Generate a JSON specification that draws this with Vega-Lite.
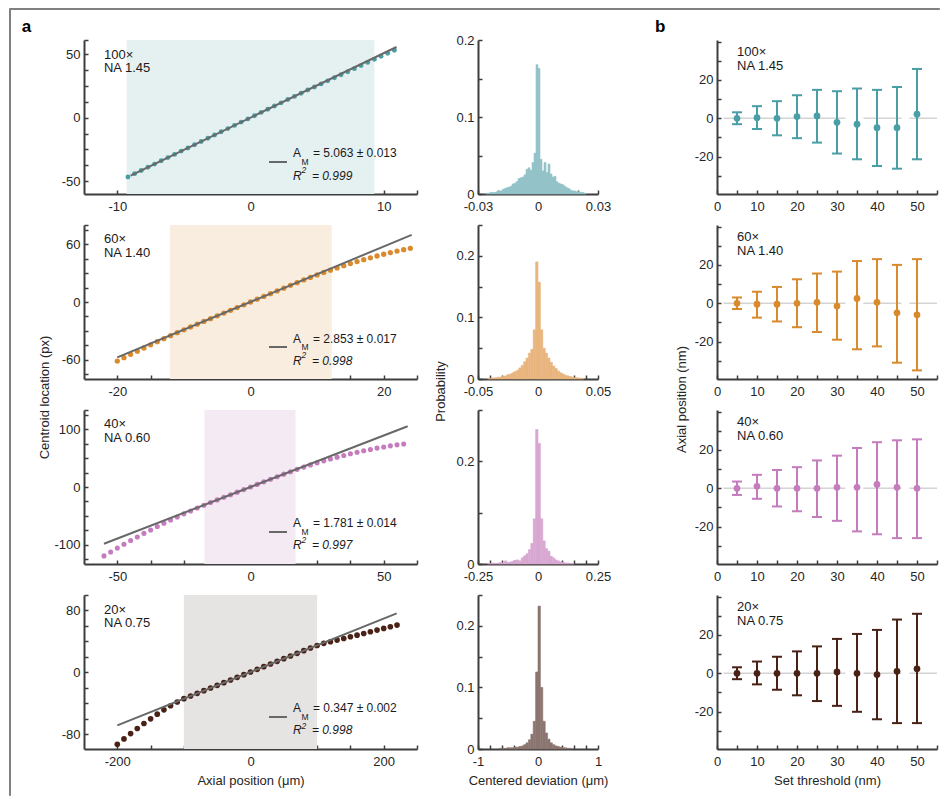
{
"$schema":"https://vega.github.io/schema/vega-lite/v6.json",
"padding":{"left":8,"top":7,"right":0,"bottom":0},
"background":"#ffffff",
"config":{
 "view":{"stroke":null},
 "font":"Liberation Sans",
 "axis":{"domainColor":"#3d3d3d","domainWidth":2,"tickColor":"#3d3d3d","tickWidth":1.5,"tickSize":-4,"labelFontSize":13,"labelColor":"#262626","labelFlush":false,"labelOverlap":false,"labelBound":false,"grid":false,"titleFontSize":13,"titleFontWeight":"normal","titleColor":"#262626"},
 "axisY":{"labelPadding":8,"labelOverlap":false},
 "axisX":{"labelPadding":10,"labelOverlap":false},
 "text":{"font":"Liberation Sans","color":"#1a1a1a"}
},
"datasets":{
 "ann":[
  {"r":1,"slo":-9.3,"shi":9.3,"fx1":-9.0,"fy1":-45.6,"fx2":10.96,"fy2":55.5,"mag":"100×\nNA 1.45","am":"= 5.063 ± 0.013","r2":"= 0.999"},
  {"r":2,"slo":-12.1,"shi":12.2,"fx1":-20,"fy1":-57.6,"fx2":24.2,"fy2":69.8,"mag":"60×\nNA 1.40","am":"= 2.853 ± 0.017","r2":"= 0.998"},
  {"r":3,"slo":-17.3,"shi":16.9,"fx1":-55,"fy1":-98,"fx2":59,"fy2":105,"mag":"40×\nNA 0.60","am":"= 1.781 ± 0.014","r2":"= 0.997"},
  {"r":4,"slo":-100,"shi":100,"fx1":-200,"fy1":-68.5,"fx2":219.5,"fy2":76.2,"mag":"20×\nNA 0.75","am":"= 0.347 ± 0.002","r2":"= 0.998"}
 ],
 "pts":[
  {"r":1,"x":-9.2,"y":-46.6},{"r":1,"x":-8.7,"y":-44.0},{"r":1,"x":-8.2,"y":-41.5},{"r":1,"x":-7.7,"y":-39.0},{"r":1,"x":-7.2,"y":-36.5},{"r":1,"x":-6.7,"y":-33.9},{"r":1,"x":-6.2,"y":-31.4},{"r":1,"x":-5.7,"y":-28.9},{"r":1,"x":-5.2,"y":-26.3},{"r":1,"x":-4.7,"y":-23.8},{"r":1,"x":-4.2,"y":-21.3},{"r":1,"x":-3.7,"y":-18.7},{"r":1,"x":-3.2,"y":-16.2},{"r":1,"x":-2.7,"y":-13.7},{"r":1,"x":-2.2,"y":-11.1},{"r":1,"x":-1.7,"y":-8.6},{"r":1,"x":-1.2,"y":-6.1},{"r":1,"x":-0.7,"y":-3.5},{"r":1,"x":-0.2,"y":-1.0},{"r":1,"x":0.3,"y":1.5},{"r":1,"x":0.8,"y":4.1},{"r":1,"x":1.3,"y":6.6},{"r":1,"x":1.8,"y":9.1},{"r":1,"x":2.3,"y":11.6},{"r":1,"x":2.8,"y":14.2},{"r":1,"x":3.3,"y":16.7},{"r":1,"x":3.8,"y":19.2},{"r":1,"x":4.3,"y":21.7},{"r":1,"x":4.8,"y":24.1},{"r":1,"x":5.3,"y":26.5},{"r":1,"x":5.8,"y":28.9},{"r":1,"x":6.3,"y":31.3},{"r":1,"x":6.8,"y":33.7},{"r":1,"x":7.3,"y":36.1},{"r":1,"x":7.8,"y":38.5},{"r":1,"x":8.3,"y":40.9},{"r":1,"x":8.8,"y":43.4},{"r":1,"x":9.3,"y":45.8},{"r":1,"x":9.8,"y":48.2},{"r":1,"x":10.3,"y":50.6},{"r":1,"x":10.8,"y":53.0},
  {"r":2,"x":-20,"y":-61.4},{"r":2,"x":-19,"y":-57.8},{"r":2,"x":-18,"y":-54.4},{"r":2,"x":-17,"y":-51.1},{"r":2,"x":-16,"y":-47.8},{"r":2,"x":-15,"y":-44.5},{"r":2,"x":-14,"y":-41.2},{"r":2,"x":-13,"y":-38.1},{"r":2,"x":-12,"y":-35.0},{"r":2,"x":-11,"y":-31.9},{"r":2,"x":-10,"y":-28.9},{"r":2,"x":-9,"y":-25.9},{"r":2,"x":-8,"y":-23.0},{"r":2,"x":-7,"y":-20.2},{"r":2,"x":-6,"y":-17.3},{"r":2,"x":-5,"y":-14.4},{"r":2,"x":-4,"y":-11.5},{"r":2,"x":-3,"y":-8.6},{"r":2,"x":-2,"y":-5.8},{"r":2,"x":-1,"y":-2.9},{"r":2,"x":0,"y":0},{"r":2,"x":1,"y":2.9},{"r":2,"x":2,"y":5.8},{"r":2,"x":3,"y":8.6},{"r":2,"x":4,"y":11.5},{"r":2,"x":5,"y":14.4},{"r":2,"x":6,"y":17.3},{"r":2,"x":7,"y":20.1},{"r":2,"x":8,"y":22.9},{"r":2,"x":9,"y":25.5},{"r":2,"x":10,"y":28.1},{"r":2,"x":11,"y":30.7},{"r":2,"x":12,"y":33.1},{"r":2,"x":13,"y":35.4},{"r":2,"x":14,"y":37.7},{"r":2,"x":15,"y":39.9},{"r":2,"x":16,"y":42.0},{"r":2,"x":17,"y":44.0},{"r":2,"x":18,"y":45.9},{"r":2,"x":19,"y":47.8},{"r":2,"x":20,"y":49.6},{"r":2,"x":21,"y":51.3},{"r":2,"x":22,"y":52.9},{"r":2,"x":23,"y":54.4},{"r":2,"x":24,"y":55.8},
  {"r":3,"x":-55,"y":-119.0},{"r":3,"x":-52.5,"y":-112.2},{"r":3,"x":-50,"y":-105.5},{"r":3,"x":-47.5,"y":-99.0},{"r":3,"x":-45,"y":-92.5},{"r":3,"x":-42.5,"y":-86.3},{"r":3,"x":-40,"y":-80.1},{"r":3,"x":-37.5,"y":-74.2},{"r":3,"x":-35,"y":-68.3},{"r":3,"x":-32.5,"y":-62.7},{"r":3,"x":-30,"y":-57.1},{"r":3,"x":-27.5,"y":-51.7},{"r":3,"x":-25,"y":-46.4},{"r":3,"x":-22.5,"y":-41.4},{"r":3,"x":-20,"y":-36.3},{"r":3,"x":-17.5,"y":-31.5},{"r":3,"x":-15,"y":-26.8},{"r":3,"x":-12.5,"y":-22.3},{"r":3,"x":-10,"y":-17.8},{"r":3,"x":-7.5,"y":-13.4},{"r":3,"x":-5,"y":-8.9},{"r":3,"x":-2.5,"y":-4.5},{"r":3,"x":0,"y":0},{"r":3,"x":2.5,"y":4.5},{"r":3,"x":5,"y":8.9},{"r":3,"x":7.5,"y":13.4},{"r":3,"x":10,"y":17.8},{"r":3,"x":12.5,"y":22.2},{"r":3,"x":15,"y":26.4},{"r":3,"x":17.5,"y":30.5},{"r":3,"x":20,"y":34.4},{"r":3,"x":22.5,"y":38.2},{"r":3,"x":25,"y":41.7},{"r":3,"x":27.5,"y":45.2},{"r":3,"x":30,"y":48.4},{"r":3,"x":32.5,"y":51.6},{"r":3,"x":35,"y":54.5},{"r":3,"x":37.5,"y":57.4},{"r":3,"x":40,"y":60.0},{"r":3,"x":42.5,"y":62.6},{"r":3,"x":45,"y":64.9},{"r":3,"x":47.5,"y":67.2},{"r":3,"x":50,"y":69.2},{"r":3,"x":52.5,"y":71.1},{"r":3,"x":55,"y":72.8},{"r":3,"x":57.5,"y":74.4},
  {"r":4,"x":-200,"y":-93.0},{"r":4,"x":-190,"y":-86.0},{"r":4,"x":-180,"y":-79.1},{"r":4,"x":-170,"y":-72.5},{"r":4,"x":-160,"y":-66.1},{"r":4,"x":-150,"y":-60.0},{"r":4,"x":-140,"y":-54.0},{"r":4,"x":-130,"y":-48.4},{"r":4,"x":-120,"y":-43.1},{"r":4,"x":-110,"y":-38.3},{"r":4,"x":-100,"y":-34.0},{"r":4,"x":-90,"y":-30.55},{"r":4,"x":-80,"y":-27.1},{"r":4,"x":-70,"y":-23.65},{"r":4,"x":-60,"y":-20.2},{"r":4,"x":-50,"y":-16.75},{"r":4,"x":-40,"y":-13.3},{"r":4,"x":-30,"y":-9.85},{"r":4,"x":-20,"y":-6.4},{"r":4,"x":-10,"y":-2.95},{"r":4,"x":0,"y":0.5},{"r":4,"x":10,"y":3.95},{"r":4,"x":20,"y":7.4},{"r":4,"x":30,"y":10.85},{"r":4,"x":40,"y":14.3},{"r":4,"x":50,"y":17.75},{"r":4,"x":60,"y":21.2},{"r":4,"x":70,"y":24.65},{"r":4,"x":80,"y":28.1},{"r":4,"x":90,"y":31.55},{"r":4,"x":100,"y":34.7},{"r":4,"x":110,"y":37.5},{"r":4,"x":120,"y":39.6},{"r":4,"x":130,"y":41.7},{"r":4,"x":140,"y":43.8},{"r":4,"x":150,"y":46.0},{"r":4,"x":160,"y":48.1},{"r":4,"x":170,"y":50.3},{"r":4,"x":180,"y":52.5},{"r":4,"x":190,"y":54.7},{"r":4,"x":200,"y":56.8},{"r":4,"x":210,"y":59.0},{"r":4,"x":220,"y":61.1}
 ],
 "hist":[
  {"r":1,"a":-0.026,"b":-0.025,"p":0.001},{"r":1,"a":-0.025,"b":-0.024,"p":0.001},{"r":1,"a":-0.024,"b":-0.023,"p":0.002},{"r":1,"a":-0.023,"b":-0.022,"p":0.002},{"r":1,"a":-0.022,"b":-0.021,"p":0.002},{"r":1,"a":-0.021,"b":-0.020,"p":0.003},{"r":1,"a":-0.020,"b":-0.019,"p":0.004},{"r":1,"a":-0.019,"b":-0.018,"p":0.004},{"r":1,"a":-0.018,"b":-0.017,"p":0.006},{"r":1,"a":-0.017,"b":-0.016,"p":0.007},{"r":1,"a":-0.016,"b":-0.015,"p":0.008},{"r":1,"a":-0.015,"b":-0.014,"p":0.009},{"r":1,"a":-0.014,"b":-0.013,"p":0.010},{"r":1,"a":-0.013,"b":-0.012,"p":0.013},{"r":1,"a":-0.012,"b":-0.011,"p":0.014},{"r":1,"a":-0.011,"b":-0.010,"p":0.016},{"r":1,"a":-0.010,"b":-0.009,"p":0.020},{"r":1,"a":-0.009,"b":-0.008,"p":0.021},{"r":1,"a":-0.008,"b":-0.007,"p":0.022},{"r":1,"a":-0.007,"b":-0.006,"p":0.025},{"r":1,"a":-0.006,"b":-0.005,"p":0.032},{"r":1,"a":-0.005,"b":-0.004,"p":0.034},{"r":1,"a":-0.004,"b":-0.003,"p":0.031},{"r":1,"a":-0.003,"b":-0.002,"p":0.041},{"r":1,"a":-0.002,"b":-0.001,"p":0.053},{"r":1,"a":-0.001,"b":0,"p":0.168},{"r":1,"a":0,"b":0.001,"p":0.163},{"r":1,"a":0.001,"b":0.002,"p":0.045},{"r":1,"a":0.002,"b":0.003,"p":0.030},{"r":1,"a":0.003,"b":0.004,"p":0.041},{"r":1,"a":0.004,"b":0.005,"p":0.028},{"r":1,"a":0.005,"b":0.006,"p":0.039},{"r":1,"a":0.006,"b":0.007,"p":0.026},{"r":1,"a":0.007,"b":0.008,"p":0.022},{"r":1,"a":0.008,"b":0.009,"p":0.023},{"r":1,"a":0.009,"b":0.010,"p":0.016},{"r":1,"a":0.010,"b":0.011,"p":0.014},{"r":1,"a":0.011,"b":0.012,"p":0.013},{"r":1,"a":0.012,"b":0.013,"p":0.012},{"r":1,"a":0.013,"b":0.014,"p":0.010},{"r":1,"a":0.014,"b":0.015,"p":0.008},{"r":1,"a":0.015,"b":0.016,"p":0.007},{"r":1,"a":0.016,"b":0.017,"p":0.005},{"r":1,"a":0.017,"b":0.018,"p":0.004},{"r":1,"a":0.018,"b":0.019,"p":0.004},{"r":1,"a":0.019,"b":0.020,"p":0.003},{"r":1,"a":0.020,"b":0.021,"p":0.003},{"r":1,"a":0.021,"b":0.022,"p":0.002},{"r":1,"a":0.022,"b":0.023,"p":0.002},{"r":1,"a":0.023,"b":0.024,"p":0.001},
  {"r":2,"a":-0.042,"b":-0.040,"p":0.001},{"r":2,"a":-0.040,"b":-0.038,"p":0.001},{"r":2,"a":-0.038,"b":-0.036,"p":0.002},{"r":2,"a":-0.036,"b":-0.034,"p":0.002},{"r":2,"a":-0.034,"b":-0.032,"p":0.003},{"r":2,"a":-0.032,"b":-0.030,"p":0.003},{"r":2,"a":-0.030,"b":-0.028,"p":0.004},{"r":2,"a":-0.028,"b":-0.026,"p":0.005},{"r":2,"a":-0.026,"b":-0.024,"p":0.007},{"r":2,"a":-0.024,"b":-0.022,"p":0.008},{"r":2,"a":-0.022,"b":-0.020,"p":0.010},{"r":2,"a":-0.020,"b":-0.018,"p":0.012},{"r":2,"a":-0.018,"b":-0.016,"p":0.014},{"r":2,"a":-0.016,"b":-0.014,"p":0.018},{"r":2,"a":-0.014,"b":-0.012,"p":0.022},{"r":2,"a":-0.012,"b":-0.010,"p":0.028},{"r":2,"a":-0.010,"b":-0.008,"p":0.034},{"r":2,"a":-0.008,"b":-0.006,"p":0.042},{"r":2,"a":-0.006,"b":-0.004,"p":0.048},{"r":2,"a":-0.004,"b":-0.002,"p":0.080},{"r":2,"a":-0.002,"b":0,"p":0.190},{"r":2,"a":0,"b":0.002,"p":0.157},{"r":2,"a":0.002,"b":0.004,"p":0.080},{"r":2,"a":0.004,"b":0.006,"p":0.050},{"r":2,"a":0.006,"b":0.008,"p":0.042},{"r":2,"a":0.008,"b":0.010,"p":0.034},{"r":2,"a":0.010,"b":0.012,"p":0.027},{"r":2,"a":0.012,"b":0.014,"p":0.021},{"r":2,"a":0.014,"b":0.016,"p":0.017},{"r":2,"a":0.016,"b":0.018,"p":0.013},{"r":2,"a":0.018,"b":0.020,"p":0.010},{"r":2,"a":0.020,"b":0.022,"p":0.008},{"r":2,"a":0.022,"b":0.024,"p":0.006},{"r":2,"a":0.024,"b":0.026,"p":0.005},{"r":2,"a":0.026,"b":0.028,"p":0.004},{"r":2,"a":0.028,"b":0.030,"p":0.003},{"r":2,"a":0.030,"b":0.032,"p":0.002},{"r":2,"a":0.032,"b":0.034,"p":0.002},{"r":2,"a":0.034,"b":0.036,"p":0.001},{"r":2,"a":0.036,"b":0.038,"p":0.001},
  {"r":3,"a":-0.21,"b":-0.20,"p":0.001},{"r":3,"a":-0.20,"b":-0.19,"p":0.001},{"r":3,"a":-0.19,"b":-0.18,"p":0.002},{"r":3,"a":-0.18,"b":-0.17,"p":0.001},{"r":3,"a":-0.17,"b":-0.16,"p":0.002},{"r":3,"a":-0.16,"b":-0.15,"p":0.003},{"r":3,"a":-0.15,"b":-0.14,"p":0.002},{"r":3,"a":-0.14,"b":-0.13,"p":0.006},{"r":3,"a":-0.13,"b":-0.12,"p":0.003},{"r":3,"a":-0.12,"b":-0.11,"p":0.004},{"r":3,"a":-0.11,"b":-0.10,"p":0.005},{"r":3,"a":-0.10,"b":-0.09,"p":0.007},{"r":3,"a":-0.09,"b":-0.08,"p":0.008},{"r":3,"a":-0.08,"b":-0.07,"p":0.006},{"r":3,"a":-0.07,"b":-0.06,"p":0.012},{"r":3,"a":-0.06,"b":-0.05,"p":0.016},{"r":3,"a":-0.05,"b":-0.04,"p":0.020},{"r":3,"a":-0.04,"b":-0.03,"p":0.028},{"r":3,"a":-0.03,"b":-0.02,"p":0.040},{"r":3,"a":-0.02,"b":-0.01,"p":0.088},{"r":3,"a":-0.01,"b":0,"p":0.262},{"r":3,"a":0,"b":0.01,"p":0.235},{"r":3,"a":0.01,"b":0.02,"p":0.088},{"r":3,"a":0.02,"b":0.03,"p":0.045},{"r":3,"a":0.03,"b":0.04,"p":0.030},{"r":3,"a":0.04,"b":0.05,"p":0.025},{"r":3,"a":0.05,"b":0.06,"p":0.015},{"r":3,"a":0.06,"b":0.07,"p":0.012},{"r":3,"a":0.07,"b":0.08,"p":0.008},{"r":3,"a":0.08,"b":0.09,"p":0.006},{"r":3,"a":0.09,"b":0.10,"p":0.004},{"r":3,"a":0.10,"b":0.11,"p":0.003},{"r":3,"a":0.11,"b":0.12,"p":0.002},{"r":3,"a":0.12,"b":0.13,"p":0.002},{"r":3,"a":0.13,"b":0.14,"p":0.001},{"r":3,"a":0.14,"b":0.15,"p":0.001},
  {"r":4,"a":-0.64,"b":-0.60,"p":0.001},{"r":4,"a":-0.60,"b":-0.56,"p":0.001},{"r":4,"a":-0.56,"b":-0.52,"p":0.001},{"r":4,"a":-0.52,"b":-0.48,"p":0.002},{"r":4,"a":-0.48,"b":-0.44,"p":0.002},{"r":4,"a":-0.44,"b":-0.40,"p":0.002},{"r":4,"a":-0.40,"b":-0.36,"p":0.003},{"r":4,"a":-0.36,"b":-0.32,"p":0.003},{"r":4,"a":-0.32,"b":-0.28,"p":0.004},{"r":4,"a":-0.28,"b":-0.24,"p":0.005},{"r":4,"a":-0.24,"b":-0.20,"p":0.007},{"r":4,"a":-0.20,"b":-0.16,"p":0.010},{"r":4,"a":-0.16,"b":-0.12,"p":0.015},{"r":4,"a":-0.12,"b":-0.08,"p":0.024},{"r":4,"a":-0.08,"b":-0.04,"p":0.045},{"r":4,"a":-0.04,"b":0,"p":0.125},{"r":4,"a":0,"b":0.04,"p":0.232},{"r":4,"a":0.04,"b":0.08,"p":0.100},{"r":4,"a":0.08,"b":0.12,"p":0.045},{"r":4,"a":0.12,"b":0.16,"p":0.026},{"r":4,"a":0.16,"b":0.20,"p":0.016},{"r":4,"a":0.20,"b":0.24,"p":0.010},{"r":4,"a":0.24,"b":0.28,"p":0.007},{"r":4,"a":0.28,"b":0.32,"p":0.005},{"r":4,"a":0.32,"b":0.36,"p":0.004},{"r":4,"a":0.36,"b":0.40,"p":0.003},{"r":4,"a":0.40,"b":0.44,"p":0.002},{"r":4,"a":0.44,"b":0.48,"p":0.002},{"r":4,"a":0.48,"b":0.52,"p":0.001},{"r":4,"a":0.52,"b":0.56,"p":0.001}
 ],
 "err":[
  {"r":1,"t":5,"m":0,"lo":-3.1,"hi":3.1},{"r":1,"t":10,"m":0.3,"lo":-5.6,"hi":6.3},{"r":1,"t":15,"m":0,"lo":-8.9,"hi":8.9},{"r":1,"t":20,"m":0.9,"lo":-10.4,"hi":12},{"r":1,"t":25,"m":1.2,"lo":-12.7,"hi":14.8},{"r":1,"t":30,"m":-2.1,"lo":-18.4,"hi":14.1},{"r":1,"t":35,"m":-3.1,"lo":-21.4,"hi":15.5},{"r":1,"t":40,"m":-4.9,"lo":-24.9,"hi":14.8},{"r":1,"t":45,"m":-4.9,"lo":-26.3,"hi":16.3},{"r":1,"t":50,"m":2.1,"lo":-21.4,"hi":25.7},
  {"r":2,"t":5,"m":0,"lo":-3,"hi":3},{"r":2,"t":10,"m":-0.5,"lo":-7.5,"hi":6},{"r":2,"t":15,"m":-0.5,"lo":-9.5,"hi":8.5},{"r":2,"t":20,"m":0,"lo":-12.5,"hi":12.5},{"r":2,"t":25,"m":0.5,"lo":-15,"hi":15.5},{"r":2,"t":30,"m":-1.5,"lo":-19,"hi":16.5},{"r":2,"t":35,"m":2.5,"lo":-24,"hi":22},{"r":2,"t":40,"m":0.5,"lo":-22.5,"hi":23},{"r":2,"t":45,"m":-5,"lo":-31,"hi":20},{"r":2,"t":50,"m":-6,"lo":-35,"hi":23},
  {"r":3,"t":5,"m":0,"lo":-3.5,"hi":3.5},{"r":3,"t":10,"m":1,"lo":-5.5,"hi":7},{"r":3,"t":15,"m":0,"lo":-9.5,"hi":9.5},{"r":3,"t":20,"m":0,"lo":-12,"hi":11},{"r":3,"t":25,"m":0,"lo":-15,"hi":14.5},{"r":3,"t":30,"m":0.5,"lo":-17,"hi":17},{"r":3,"t":35,"m":0.5,"lo":-22.5,"hi":21},{"r":3,"t":40,"m":2,"lo":-24,"hi":24},{"r":3,"t":45,"m":0.5,"lo":-26,"hi":25},{"r":3,"t":50,"m":0,"lo":-26,"hi":25.5},
  {"r":4,"t":5,"m":0,"lo":-3.1,"hi":3.1},{"r":4,"t":10,"m":0,"lo":-5.8,"hi":6.1},{"r":4,"t":15,"m":0,"lo":-8.6,"hi":8.6},{"r":4,"t":20,"m":0,"lo":-11.5,"hi":11.4},{"r":4,"t":25,"m":0,"lo":-14.5,"hi":14},{"r":4,"t":30,"m":0.7,"lo":-17,"hi":17.9},{"r":4,"t":35,"m":0,"lo":-20.1,"hi":20.5},{"r":4,"t":40,"m":-0.7,"lo":-24,"hi":22.6},{"r":4,"t":45,"m":1,"lo":-26,"hi":28},{"r":4,"t":50,"m":2.3,"lo":-26,"hi":31}
 ]
},
"concat":[
 {"width":75,"height":1,"data":{"values":[{}]},"mark":{"type":"point","size":0,"strokeWidth":0,"opacity":0},"encoding":{},"view":{"stroke":"#808080","strokeWidth":1,"fill":"#808080"}},
 {"width":333,"height":1,"data":{"values":[{}]},"mark":{"type":"point","size":0,"strokeWidth":0,"opacity":0},"encoding":{},"view":{"stroke":"#808080","strokeWidth":1,"fill":"#808080"}},
 {"width":61,"height":1,"data":{"values":[{}]},"mark":{"type":"point","size":0,"strokeWidth":0,"opacity":0},"encoding":{},"view":{"stroke":"#808080","strokeWidth":1,"fill":"#808080"}},
 {"width":120,"height":1,"data":{"values":[{}]},"mark":{"type":"point","size":0,"strokeWidth":0,"opacity":0},"encoding":{},"view":{"stroke":"#808080","strokeWidth":1,"fill":"#808080"}},
 {"width":119,"height":1,"data":{"values":[{}]},"mark":{"type":"point","size":0,"strokeWidth":0,"opacity":0},"encoding":{},"view":{"stroke":"#808080","strokeWidth":1,"fill":"#808080"}},
 {"width":222,"height":1,"data":{"values":[{}]},"mark":{"type":"point","size":0,"strokeWidth":0,"opacity":0},"encoding":{},"view":{"stroke":"#808080","strokeWidth":1,"fill":"#808080"}},

 {"width":1,"height":31,"data":{"values":[{}]},"mark":{"type":"point","size":0,"strokeWidth":0,"opacity":0},"encoding":{},"view":{"stroke":"#808080","strokeWidth":1,"fill":"#808080"}},
 {"width":1,"height":1,"data":{"values":[{}]},"mark":{"type":"point","size":0,"strokeWidth":0,"opacity":0},"encoding":{}},
 {"width":1,"height":1,"data":{"values":[{}]},"mark":{"type":"point","size":0,"strokeWidth":0,"opacity":0},"encoding":{}},
 {"width":1,"height":1,"data":{"values":[{}]},"mark":{"type":"point","size":0,"strokeWidth":0,"opacity":0},"encoding":{}},
 {"width":1,"height":1,"data":{"values":[{}]},"mark":{"type":"point","size":0,"strokeWidth":0,"opacity":0},"encoding":{}},
 {"width":1,"height":1,"data":{"values":[{}]},"mark":{"type":"point","size":0,"strokeWidth":0,"opacity":0},"encoding":{}},

 {"width":1,"height":185,"data":{"values":[{}]},"mark":{"type":"point","size":0,"strokeWidth":0,"opacity":0},"encoding":{},"view":{"stroke":"#808080","strokeWidth":1,"fill":"#808080"}},
 {"width":333,"height":154,
  "data":{"name":"ann"},"transform":[{"filter":"datum.r == 1"}],
  "layer":[
   {"mark":{"type":"rect","color":"#e5f0f1"},"encoding":{"x":{"field":"slo","type":"quantitative","scale":{"domain":[-12.5,12.5],"nice":false,"zero":false},"axis":{"title":null,"tickCount":100,"labelOverlap":false,"values":[-10,-7.5,-5,-2.5,0,2.5,5,7.5,10,12.5],"labelExpr":"indexof([-10,0,10], datum.value) >= 0 ? (datum.value < 0 ? '-' + (-datum.value) : '' + datum.value) : ''"}},"x2":{"field":"shi"}}},
   {"data":{"name":"pts"},"transform":[{"filter":"datum.r == 1"}],"mark":{"type":"circle","size":24,"opacity":1,"color":"#4a9ea6"},"encoding":{"x":{"field":"x","type":"quantitative"},"y":{"field":"y","type":"quantitative","scale":{"domain":[-60,61],"nice":false,"zero":false},"axis":{"title":null,"tickCount":100,"labelOverlap":false,"values":[-50,-37.5,-25,-12.5,0,12.5,25,37.5,50,61],"labelExpr":"indexof([-50,0,50], datum.value) >= 0 ? (datum.value < 0 ? '-' + (-datum.value) : '' + datum.value) : ''"}}}},
   {"mark":{"type":"rule","color":"#686868","strokeWidth":2},"encoding":{"x":{"field":"fx1","type":"quantitative"},"y":{"field":"fy1","type":"quantitative"},"x2":{"field":"fx2"},"y2":{"field":"fy2"}}},
   {"mark":{"type":"text","text":"a","align":"left","baseline":"alphabetic","fontSize":17,"fontWeight":"bold","color":"#000000"},"encoding":{"x":{"datum":-17.18},"y":{"datum":67.05}}},
   {"mark":{"type":"text","align":"left","baseline":"alphabetic","fontSize":13,"lineBreak":"\n","lineHeight":13.5},"encoding":{"x":{"datum":-11.0},"y":{"datum":46.46},"text":{"field":"mag"}}},
   {"mark":{"type":"rule","color":"#686868","strokeWidth":2},"encoding":{"x":{"datum":1.389},"x2":{"datum":2.740},"y":{"datum":-34.86}}},
   {"mark":{"type":"text","text":"A","align":"left","baseline":"alphabetic","fontSize":12},"encoding":{"x":{"datum":3.191},"y":{"datum":-31.32}}},
   {"mark":{"type":"text","text":"M","align":"left","baseline":"alphabetic","fontSize":8.5},"encoding":{"x":{"datum":3.829},"y":{"datum":-37.21}}},
   {"mark":{"type":"text","align":"left","baseline":"alphabetic","fontSize":12},"encoding":{"x":{"datum":4.692},"y":{"datum":-31.32},"text":{"field":"am"}}},
   {"mark":{"type":"text","text":"R","align":"left","baseline":"alphabetic","fontSize":12,"fontStyle":"italic"},"encoding":{"x":{"datum":3.191},"y":{"datum":-48.61}}},
   {"mark":{"type":"text","text":"2","align":"left","baseline":"alphabetic","fontSize":8.5,"fontStyle":"italic"},"encoding":{"x":{"datum":3.829},"y":{"datum":-43.89}}},
   {"mark":{"type":"text","align":"left","baseline":"alphabetic","fontSize":12,"fontStyle":"italic"},"encoding":{"x":{"datum":4.617},"y":{"datum":-48.61},"text":{"field":"r2"}}}
  ]},
 {"width":1,"height":1,"data":{"values":[{}]},"mark":{"type":"point","size":0,"strokeWidth":0,"opacity":0},"encoding":{}},
 {"width":120,"height":154,"data":{"name":"hist"},"transform":[{"filter":"datum.r == 1"}],"mark":{"type":"rect","color":"#93c4c9","stroke":"#93c4c9","strokeWidth":0.6},
  "encoding":{"x":{"field":"a","type":"quantitative","scale":{"domain":[-0.03,0.03],"nice":false,"zero":false},"axis":{"title":null,"tickCount":100,"labelOverlap":false,"values":[-0.03,-0.02,-0.01,0,0.01,0.02,0.03],"labelExpr":"indexof([-0.03,0,0.03], datum.value) >= 0 ? (datum.value < 0 ? '-' + (-datum.value) : '' + datum.value) : ''"}},"x2":{"field":"b"},
   "y":{"field":"p","type":"quantitative","scale":{"domain":[0,0.2],"nice":false},"axis":{"title":null,"tickCount":100,"labelOverlap":false,"values":[0,0.05,0.1,0.15,0.2],"labelExpr":"indexof([0,0.1,0.2], datum.value) >= 0 ? '' + datum.value : ''"}},"y2":{"datum":0}}},
 {"width":1,"height":1,"data":{"values":[{}]},"mark":{"type":"point","size":0,"strokeWidth":0,"opacity":0},"encoding":{}},
 {"width":220,"height":154,
  "data":{"name":"err"},"transform":[{"filter":"datum.r == 1"}],
  "layer":[
   {"mark":{"type":"rule","color":"#4a9ea6","strokeWidth":2},"encoding":{"x":{"field":"t","type":"quantitative","scale":{"domain":[0,55],"nice":false,"zero":false},"axis":{"title":null,"tickCount":100,"labelOverlap":false,"values":[0,5,10,15,20,25,30,35,40,45,50,55],"labelExpr":"indexof([0,10,20,30,40,50], datum.value) >= 0 ? '' + datum.value : ''"}},"y":{"field":"lo","type":"quantitative","scale":{"domain":[-39.5,40.8],"nice":false,"zero":false},"axis":{"title":null,"tickCount":100,"labelOverlap":false,"values":[-30,-20,-10,0,10,20,30,40],"labelExpr":"indexof([-20,0,20], datum.value) >= 0 ? (datum.value < 0 ? '-' + (-datum.value) : '' + datum.value) : ''"}},"y2":{"field":"hi"}}},
   {"data":{"values":[{}]},"mark":{"type":"rule","color":"#d4d4d4","strokeWidth":1.5,"strokeDash":[122,18,38,8,60]},"encoding":{"x":{"datum":1.6},"x2":{"datum":55},"y":{"datum":0}}},
   {"mark":{"type":"rule","color":"#4a9ea6","strokeWidth":2},"encoding":{"x":{"field":"t","type":"quantitative"},"y":{"field":"lo","type":"quantitative"},"y2":{"field":"hi"}}},
   {"mark":{"type":"tick","orient":"horizontal","size":10,"thickness":2,"color":"#4a9ea6","opacity":1},"encoding":{"x":{"field":"t","type":"quantitative"},"y":{"field":"lo","type":"quantitative"}}},
   {"mark":{"type":"tick","orient":"horizontal","size":10,"thickness":2,"color":"#4a9ea6","opacity":1},"encoding":{"x":{"field":"t","type":"quantitative"},"y":{"field":"hi","type":"quantitative"}}},
   {"mark":{"type":"circle","size":45,"opacity":1,"color":"#4a9ea6"},"encoding":{"x":{"field":"t","type":"quantitative"},"y":{"field":"m","type":"quantitative"}}},
   {"data":{"name":"ann"},"transform":[{"filter":"datum.r == 1"}],"mark":{"type":"text","text":"b","align":"left","baseline":"alphabetic","fontSize":17,"fontWeight":"bold","color":"#000000"},"encoding":{"x":{"datum":-15.5},"y":{"datum":44.81}}},
   {"data":{"name":"ann"},"transform":[{"filter":"datum.r == 1"}],"mark":{"type":"text","align":"left","baseline":"alphabetic","fontSize":13,"lineBreak":"\n","lineHeight":13.5},"encoding":{"x":{"datum":5},"y":{"datum":32.2},"text":{"field":"mag"}}}
  ]},

 {"width":1,"height":185,"data":{"values":[{}]},"mark":{"type":"point","size":0,"strokeWidth":0,"opacity":0},"encoding":{},"view":{"stroke":"#808080","strokeWidth":1,"fill":"#808080"}},
 {"width":333,"height":154,
  "data":{"name":"ann"},"transform":[{"filter":"datum.r == 2"}],
  "layer":[
   {"mark":{"type":"rect","color":"#f9eddf"},"encoding":{"x":{"field":"slo","type":"quantitative","scale":{"domain":[-25,25],"nice":false,"zero":false},"axis":{"title":null,"tickCount":100,"labelOverlap":false,"values":[-20,-15,-10,-5,0,5,10,15,20,25],"labelExpr":"indexof([-20,0,20], datum.value) >= 0 ? (datum.value < 0 ? '-' + (-datum.value) : '' + datum.value) : ''"}},"x2":{"field":"shi"}}},
   {"data":{"name":"pts"},"transform":[{"filter":"datum.r == 2"}],"mark":{"type":"circle","size":28,"opacity":1,"color":"#d98a2c"},"encoding":{"x":{"field":"x","type":"quantitative"},"y":{"field":"y","type":"quantitative","scale":{"domain":[-80,80],"nice":false,"zero":false},"axis":{"title":"Centroid location (px)","titleX":-40,"titleY":172,"titleBaseline":"middle","tickCount":100,"labelOverlap":false,"values":[-75,-60,-45,-30,-15,0,15,30,45,60,75,80],"labelExpr":"indexof([-60,0,60], datum.value) >= 0 ? (datum.value < 0 ? '-' + (-datum.value) : '' + datum.value) : ''"}}}},
   {"mark":{"type":"rule","color":"#686868","strokeWidth":2},"encoding":{"x":{"field":"fx1","type":"quantitative"},"y":{"field":"fy1","type":"quantitative"},"x2":{"field":"fx2"},"y2":{"field":"fy2"}}},
   {"mark":{"type":"text","align":"left","baseline":"alphabetic","fontSize":13,"lineBreak":"\n","lineHeight":13.5},"encoding":{"x":{"datum":-22.0},"y":{"datum":60.78},"text":{"field":"mag"}}},
   {"mark":{"type":"rule","color":"#686868","strokeWidth":2},"encoding":{"x":{"datum":2.778},"x2":{"datum":5.480},"y":{"datum":-46.75}}},
   {"mark":{"type":"text","text":"A","align":"left","baseline":"alphabetic","fontSize":12},"encoding":{"x":{"datum":6.381},"y":{"datum":-42.08}}},
   {"mark":{"type":"text","text":"M","align":"left","baseline":"alphabetic","fontSize":8.5},"encoding":{"x":{"datum":7.658},"y":{"datum":-49.87}}},
   {"mark":{"type":"text","align":"left","baseline":"alphabetic","fontSize":12},"encoding":{"x":{"datum":9.384},"y":{"datum":-42.08},"text":{"field":"am"}}},
   {"mark":{"type":"text","text":"R","align":"left","baseline":"alphabetic","fontSize":12,"fontStyle":"italic"},"encoding":{"x":{"datum":6.381},"y":{"datum":-64.94}}},
   {"mark":{"type":"text","text":"2","align":"left","baseline":"alphabetic","fontSize":8.5,"fontStyle":"italic"},"encoding":{"x":{"datum":7.658},"y":{"datum":-58.70}}},
   {"mark":{"type":"text","align":"left","baseline":"alphabetic","fontSize":12,"fontStyle":"italic"},"encoding":{"x":{"datum":9.234},"y":{"datum":-64.94},"text":{"field":"r2"}}}
  ]},
 {"width":1,"height":1,"data":{"values":[{}]},"mark":{"type":"point","size":0,"strokeWidth":0,"opacity":0},"encoding":{}},
 {"width":120,"height":154,"data":{"name":"hist"},"transform":[{"filter":"datum.r == 2"}],"mark":{"type":"rect","color":"#e8b57e","stroke":"#e8b57e","strokeWidth":0.6},
  "encoding":{"x":{"field":"a","type":"quantitative","scale":{"domain":[-0.05,0.05],"nice":false,"zero":false},"axis":{"title":null,"tickCount":100,"labelOverlap":false,"values":[-0.05,-0.04,-0.03,-0.02,-0.01,0,0.01,0.02,0.03,0.04,0.05],"labelExpr":"indexof([-0.05,0,0.05], datum.value) >= 0 ? (datum.value < 0 ? '-' + (-datum.value) : '' + datum.value) : ''"}},"x2":{"field":"b"},
   "y":{"field":"p","type":"quantitative","scale":{"domain":[0,0.25],"nice":false},"axis":{"title":"Probability","titleX":-38,"titleY":166,"titleBaseline":"middle","tickCount":100,"labelOverlap":false,"values":[0,0.05,0.1,0.15,0.2,0.25],"labelExpr":"indexof([0,0.1,0.2], datum.value) >= 0 ? '' + datum.value : ''"}},"y2":{"datum":0}}},
 {"width":1,"height":1,"data":{"values":[{}]},"mark":{"type":"point","size":0,"strokeWidth":0,"opacity":0},"encoding":{}},
 {"width":220,"height":154,
  "data":{"name":"err"},"transform":[{"filter":"datum.r == 2"}],
  "layer":[
   {"mark":{"type":"rule","color":"#d98a2c","strokeWidth":2},"encoding":{"x":{"field":"t","type":"quantitative","scale":{"domain":[0,55],"nice":false,"zero":false},"axis":{"title":null,"tickCount":100,"labelOverlap":false,"values":[0,5,10,15,20,25,30,35,40,45,50,55],"labelExpr":"indexof([0,10,20,30,40,50], datum.value) >= 0 ? '' + datum.value : ''"}},"y":{"field":"lo","type":"quantitative","scale":{"domain":[-39.5,40.8],"nice":false,"zero":false},"axis":{"title":"Axial position (nm)","titleX":-36,"titleY":174,"titleBaseline":"middle","tickCount":100,"labelOverlap":false,"values":[-30,-20,-10,0,10,20,30,40],"labelExpr":"indexof([-20,0,20], datum.value) >= 0 ? (datum.value < 0 ? '-' + (-datum.value) : '' + datum.value) : ''"}},"y2":{"field":"hi"}}},
   {"data":{"values":[{}]},"mark":{"type":"rule","color":"#d4d4d4","strokeWidth":1.5,"strokeDash":[122,18,38,8,60]},"encoding":{"x":{"datum":1.6},"x2":{"datum":55},"y":{"datum":0}}},
   {"mark":{"type":"rule","color":"#d98a2c","strokeWidth":2},"encoding":{"x":{"field":"t","type":"quantitative"},"y":{"field":"lo","type":"quantitative"},"y2":{"field":"hi"}}},
   {"mark":{"type":"tick","orient":"horizontal","size":10,"thickness":2,"color":"#d98a2c","opacity":1},"encoding":{"x":{"field":"t","type":"quantitative"},"y":{"field":"lo","type":"quantitative"}}},
   {"mark":{"type":"tick","orient":"horizontal","size":10,"thickness":2,"color":"#d98a2c","opacity":1},"encoding":{"x":{"field":"t","type":"quantitative"},"y":{"field":"hi","type":"quantitative"}}},
   {"mark":{"type":"circle","size":45,"opacity":1,"color":"#d98a2c"},"encoding":{"x":{"field":"t","type":"quantitative"},"y":{"field":"m","type":"quantitative"}}},
   {"data":{"name":"ann"},"transform":[{"filter":"datum.r == 2"}],"mark":{"type":"text","align":"left","baseline":"alphabetic","fontSize":13,"lineBreak":"\n","lineHeight":13.5},"encoding":{"x":{"datum":5},"y":{"datum":32.2},"text":{"field":"mag"}}}
  ]},

 {"width":1,"height":185,"data":{"values":[{}]},"mark":{"type":"point","size":0,"strokeWidth":0,"opacity":0},"encoding":{},"view":{"stroke":"#808080","strokeWidth":1,"fill":"#808080"}},
 {"width":333,"height":154,
  "data":{"name":"ann"},"transform":[{"filter":"datum.r == 3"}],
  "layer":[
   {"mark":{"type":"rect","color":"#f4eaf4"},"encoding":{"x":{"field":"slo","type":"quantitative","scale":{"domain":[-62.5,62.5],"nice":false,"zero":false},"axis":{"title":null,"tickCount":100,"labelOverlap":false,"values":[-50,-37.5,-25,-12.5,0,12.5,25,37.5,50,62.5],"labelExpr":"indexof([-50,0,50], datum.value) >= 0 ? (datum.value < 0 ? '-' + (-datum.value) : '' + datum.value) : ''"}},"x2":{"field":"shi"}}},
   {"data":{"name":"pts"},"transform":[{"filter":"datum.r == 3"}],"mark":{"type":"circle","size":26,"opacity":1,"color":"#c57bbd"},"encoding":{"x":{"field":"x","type":"quantitative"},"y":{"field":"y","type":"quantitative","scale":{"domain":[-133,133],"nice":false,"zero":false},"axis":{"title":null,"tickCount":100,"labelOverlap":false,"values":[-125,-100,-75,-50,-25,0,25,50,75,100,125,133],"labelExpr":"indexof([-100,0,100], datum.value) >= 0 ? (datum.value < 0 ? '-' + (-datum.value) : '' + datum.value) : ''"}}}},
   {"mark":{"type":"rule","color":"#686868","strokeWidth":2},"encoding":{"x":{"field":"fx1","type":"quantitative"},"y":{"field":"fy1","type":"quantitative"},"x2":{"field":"fx2"},"y2":{"field":"fy2"}}},
   {"mark":{"type":"text","align":"left","baseline":"alphabetic","fontSize":13,"lineBreak":"\n","lineHeight":13.5},"encoding":{"x":{"datum":-55.0},"y":{"datum":101.05},"text":{"field":"mag"}}},
   {"mark":{"type":"rule","color":"#686868","strokeWidth":2},"encoding":{"x":{"datum":6.944},"x2":{"datum":13.701},"y":{"datum":-77.73}}},
   {"mark":{"type":"text","text":"A","align":"left","baseline":"alphabetic","fontSize":12},"encoding":{"x":{"datum":15.953},"y":{"datum":-69.95}}},
   {"mark":{"type":"text","text":"M","align":"left","baseline":"alphabetic","fontSize":8.5},"encoding":{"x":{"datum":19.144},"y":{"datum":-82.91}}},
   {"mark":{"type":"text","align":"left","baseline":"alphabetic","fontSize":12},"encoding":{"x":{"datum":23.461},"y":{"datum":-69.95},"text":{"field":"am"}}},
   {"mark":{"type":"text","text":"R","align":"left","baseline":"alphabetic","fontSize":12,"fontStyle":"italic"},"encoding":{"x":{"datum":15.953},"y":{"datum":-107.95}}},
   {"mark":{"type":"text","text":"2","align":"left","baseline":"alphabetic","fontSize":8.5,"fontStyle":"italic"},"encoding":{"x":{"datum":19.144},"y":{"datum":-97.59}}},
   {"mark":{"type":"text","align":"left","baseline":"alphabetic","fontSize":12,"fontStyle":"italic"},"encoding":{"x":{"datum":23.086},"y":{"datum":-107.95},"text":{"field":"r2"}}}
  ]},
 {"width":1,"height":1,"data":{"values":[{}]},"mark":{"type":"point","size":0,"strokeWidth":0,"opacity":0},"encoding":{}},
 {"width":120,"height":154,"data":{"name":"hist"},"transform":[{"filter":"datum.r == 3"}],"mark":{"type":"rect","color":"#d8a7d2","stroke":"#d8a7d2","strokeWidth":0.6},
  "encoding":{"x":{"field":"a","type":"quantitative","scale":{"domain":[-0.25,0.25],"nice":false,"zero":false},"axis":{"title":null,"tickCount":100,"labelOverlap":false,"values":[-0.25,-0.2,-0.15,-0.1,-0.05,0,0.05,0.1,0.15,0.2,0.25],"labelExpr":"indexof([-0.25,0,0.25], datum.value) >= 0 ? (datum.value < 0 ? '-' + (-datum.value) : '' + datum.value) : ''"}},"x2":{"field":"b"},
   "y":{"field":"p","type":"quantitative","scale":{"domain":[0,0.3],"nice":false},"axis":{"title":null,"tickCount":100,"labelOverlap":false,"values":[0,0.1,0.2,0.3],"labelExpr":"indexof([0,0.2], datum.value) >= 0 ? '' + datum.value : ''"}},"y2":{"datum":0}}},
 {"width":1,"height":1,"data":{"values":[{}]},"mark":{"type":"point","size":0,"strokeWidth":0,"opacity":0},"encoding":{}},
 {"width":220,"height":154,
  "data":{"name":"err"},"transform":[{"filter":"datum.r == 3"}],
  "layer":[
   {"mark":{"type":"rule","color":"#c47cbd","strokeWidth":2},"encoding":{"x":{"field":"t","type":"quantitative","scale":{"domain":[0,55],"nice":false,"zero":false},"axis":{"title":null,"tickCount":100,"labelOverlap":false,"values":[0,5,10,15,20,25,30,35,40,45,50,55],"labelExpr":"indexof([0,10,20,30,40,50], datum.value) >= 0 ? '' + datum.value : ''"}},"y":{"field":"lo","type":"quantitative","scale":{"domain":[-39.5,40.8],"nice":false,"zero":false},"axis":{"title":null,"tickCount":100,"labelOverlap":false,"values":[-30,-20,-10,0,10,20,30,40],"labelExpr":"indexof([-20,0,20], datum.value) >= 0 ? (datum.value < 0 ? '-' + (-datum.value) : '' + datum.value) : ''"}},"y2":{"field":"hi"}}},
   {"data":{"values":[{}]},"mark":{"type":"rule","color":"#d4d4d4","strokeWidth":1.5,"strokeDash":[122,18,38,8,60]},"encoding":{"x":{"datum":1.6},"x2":{"datum":55},"y":{"datum":0}}},
   {"mark":{"type":"rule","color":"#c47cbd","strokeWidth":2},"encoding":{"x":{"field":"t","type":"quantitative"},"y":{"field":"lo","type":"quantitative"},"y2":{"field":"hi"}}},
   {"mark":{"type":"tick","orient":"horizontal","size":10,"thickness":2,"color":"#c47cbd","opacity":1},"encoding":{"x":{"field":"t","type":"quantitative"},"y":{"field":"lo","type":"quantitative"}}},
   {"mark":{"type":"tick","orient":"horizontal","size":10,"thickness":2,"color":"#c47cbd","opacity":1},"encoding":{"x":{"field":"t","type":"quantitative"},"y":{"field":"hi","type":"quantitative"}}},
   {"mark":{"type":"circle","size":45,"opacity":1,"color":"#c47cbd"},"encoding":{"x":{"field":"t","type":"quantitative"},"y":{"field":"m","type":"quantitative"}}},
   {"data":{"name":"ann"},"transform":[{"filter":"datum.r == 3"}],"mark":{"type":"text","align":"left","baseline":"alphabetic","fontSize":13,"lineBreak":"\n","lineHeight":13.5},"encoding":{"x":{"datum":5},"y":{"datum":32.2},"text":{"field":"mag"}}}
  ]},

 {"width":1,"height":200,"data":{"values":[{}]},"mark":{"type":"point","size":0,"strokeWidth":0,"opacity":0},"encoding":{},"view":{"stroke":"#808080","strokeWidth":1,"fill":"#808080"}},
 {"width":333,"height":154,
  "data":{"name":"ann"},"transform":[{"filter":"datum.r == 4"}],
  "layer":[
   {"mark":{"type":"rect","color":"#e6e3e3"},"encoding":{"x":{"field":"slo","type":"quantitative","scale":{"domain":[-250,250],"nice":false,"zero":false},"axis":{"title":"Axial position (μm)","titleY":35,"titleBaseline":"alphabetic","tickCount":100,"labelOverlap":false,"values":[-200,-150,-100,-50,0,50,100,150,200,250],"labelExpr":"indexof([-200,0,200], datum.value) >= 0 ? (datum.value < 0 ? '-' + (-datum.value) : '' + datum.value) : ''"}},"x2":{"field":"shi"}}},
   {"data":{"name":"pts"},"transform":[{"filter":"datum.r == 4"}],"mark":{"type":"circle","size":32,"opacity":1,"color":"#4a2115"},"encoding":{"x":{"field":"x","type":"quantitative"},"y":{"field":"y","type":"quantitative","scale":{"domain":[-99,100],"nice":false,"zero":false},"axis":{"title":null,"tickCount":100,"labelOverlap":false,"values":[-80,-60,-40,-20,0,20,40,60,80,100],"labelExpr":"indexof([-80,0,80], datum.value) >= 0 ? (datum.value < 0 ? '-' + (-datum.value) : '' + datum.value) : ''"}}}},
   {"mark":{"type":"rule","color":"#686868","strokeWidth":2},"encoding":{"x":{"field":"fx1","type":"quantitative"},"y":{"field":"fy1","type":"quantitative"},"x2":{"field":"fx2"},"y2":{"field":"fy2"}}},
   {"mark":{"type":"text","align":"left","baseline":"alphabetic","fontSize":13,"lineBreak":"\n","lineHeight":13.5},"encoding":{"x":{"datum":-219.97},"y":{"datum":76.09},"text":{"field":"mag"}}},
   {"mark":{"type":"rule","color":"#686868","strokeWidth":2},"encoding":{"x":{"datum":27.78},"x2":{"datum":54.80},"y":{"datum":-57.65}}},
   {"mark":{"type":"text","text":"A","align":"left","baseline":"alphabetic","fontSize":12},"encoding":{"x":{"datum":63.81},"y":{"datum":-51.83}}},
   {"mark":{"type":"text","text":"M","align":"left","baseline":"alphabetic","fontSize":8.5},"encoding":{"x":{"datum":76.58},"y":{"datum":-61.53}}},
   {"mark":{"type":"text","align":"left","baseline":"alphabetic","fontSize":12},"encoding":{"x":{"datum":93.84},"y":{"datum":-51.83},"text":{"field":"am"}}},
   {"mark":{"type":"text","text":"R","align":"left","baseline":"alphabetic","fontSize":12,"fontStyle":"italic"},"encoding":{"x":{"datum":63.81},"y":{"datum":-80.26}}},
   {"mark":{"type":"text","text":"2","align":"left","baseline":"alphabetic","fontSize":8.5,"fontStyle":"italic"},"encoding":{"x":{"datum":76.58},"y":{"datum":-72.51}}},
   {"mark":{"type":"text","align":"left","baseline":"alphabetic","fontSize":12,"fontStyle":"italic"},"encoding":{"x":{"datum":92.34},"y":{"datum":-80.26},"text":{"field":"r2"}}}
  ]},
 {"width":1,"height":1,"data":{"values":[{}]},"mark":{"type":"point","size":0,"strokeWidth":0,"opacity":0},"encoding":{}},
 {"width":120,"height":154,"data":{"name":"hist"},"transform":[{"filter":"datum.r == 4"}],"mark":{"type":"rect","color":"#8b7570","stroke":"#8b7570","strokeWidth":0.6},
  "encoding":{"x":{"field":"a","type":"quantitative","scale":{"domain":[-1,1],"nice":false,"zero":false},"axis":{"title":"Centered deviation (μm)","titleY":35,"titleBaseline":"alphabetic","tickCount":100,"labelOverlap":false,"values":[-1,-0.8,-0.6,-0.4,-0.2,0,0.2,0.4,0.6,0.8,1],"labelExpr":"indexof([-1,0,1], datum.value) >= 0 ? (datum.value < 0 ? '-' + (-datum.value) : '' + datum.value) : ''"}},"x2":{"field":"b"},
   "y":{"field":"p","type":"quantitative","scale":{"domain":[0,0.25],"nice":false},"axis":{"title":null,"tickCount":100,"labelOverlap":false,"values":[0,0.05,0.1,0.15,0.2,0.25],"labelExpr":"indexof([0,0.1,0.2], datum.value) >= 0 ? '' + datum.value : ''"}},"y2":{"datum":0}}},
 {"width":1,"height":1,"data":{"values":[{}]},"mark":{"type":"point","size":0,"strokeWidth":0,"opacity":0},"encoding":{}},
 {"width":220,"height":154,
  "data":{"name":"err"},"transform":[{"filter":"datum.r == 4"}],
  "layer":[
   {"mark":{"type":"rule","color":"#4a2115","strokeWidth":2},"encoding":{"x":{"field":"t","type":"quantitative","scale":{"domain":[0,55],"nice":false,"zero":false},"axis":{"title":"Set threshold (nm)","titleY":35,"titleBaseline":"alphabetic","tickCount":100,"labelOverlap":false,"values":[0,5,10,15,20,25,30,35,40,45,50,55],"labelExpr":"indexof([0,10,20,30,40,50], datum.value) >= 0 ? '' + datum.value : ''"}},"y":{"field":"lo","type":"quantitative","scale":{"domain":[-39.5,40.8],"nice":false,"zero":false},"axis":{"title":null,"tickCount":100,"labelOverlap":false,"values":[-30,-20,-10,0,10,20,30,40],"labelExpr":"indexof([-20,0,20], datum.value) >= 0 ? (datum.value < 0 ? '-' + (-datum.value) : '' + datum.value) : ''"}},"y2":{"field":"hi"}}},
   {"data":{"values":[{}]},"mark":{"type":"rule","color":"#d4d4d4","strokeWidth":1.5,"strokeDash":[122,18,38,8,60]},"encoding":{"x":{"datum":1.6},"x2":{"datum":55},"y":{"datum":0}}},
   {"mark":{"type":"rule","color":"#4a2115","strokeWidth":2},"encoding":{"x":{"field":"t","type":"quantitative"},"y":{"field":"lo","type":"quantitative"},"y2":{"field":"hi"}}},
   {"mark":{"type":"tick","orient":"horizontal","size":10,"thickness":2,"color":"#4a2115","opacity":1},"encoding":{"x":{"field":"t","type":"quantitative"},"y":{"field":"lo","type":"quantitative"}}},
   {"mark":{"type":"tick","orient":"horizontal","size":10,"thickness":2,"color":"#4a2115","opacity":1},"encoding":{"x":{"field":"t","type":"quantitative"},"y":{"field":"hi","type":"quantitative"}}},
   {"mark":{"type":"circle","size":45,"opacity":1,"color":"#4a2115"},"encoding":{"x":{"field":"t","type":"quantitative"},"y":{"field":"m","type":"quantitative"}}},
   {"data":{"name":"ann"},"transform":[{"filter":"datum.r == 4"}],"mark":{"type":"text","align":"left","baseline":"alphabetic","fontSize":13,"lineBreak":"\n","lineHeight":13.5},"encoding":{"x":{"datum":5},"y":{"datum":32.2},"text":{"field":"mag"}}}
  ]}
],
"columns":6,
"spacing":0,
"bounds":"flush",
"align":"each"
}
